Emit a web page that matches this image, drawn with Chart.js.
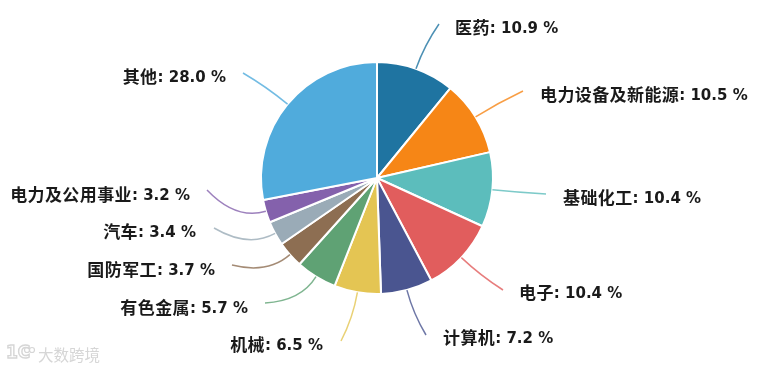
<!DOCTYPE html>
<html>
<head>
<meta charset="utf-8">
<style>
  html, body { margin: 0; padding: 0; background: #fff; }
  #wrap { width: 758px; height: 370px; }
</style>
<script src="https://cdn.jsdelivr.net/npm/chart.js@4/dist/chart.umd.min.js"></script>
</head>
<body>
<div id="wrap"><canvas id="pie" width="758" height="370"></canvas></div>
<script>
// Data
const categories = ['医药', '电力设备及新能源', '基础化工', '电子', '计算机', '机械', '有色金属', '国防军工', '汽车', '电力及公用事业', '其他'];
const weights = [10.9, 10.5, 10.4, 10.4, 7.2, 6.5, 5.7, 3.7, 3.4, 3.2, 28.0];
const sliceColors = ['#1f74a1', '#f68616', '#5cbdbc', '#e15d5d', '#4a5590', '#e4c553', '#5fa274', '#8d6e52', '#9aabb7', '#8461ac', '#50abdc'];

// Leader end point and label anchor, one per slice (canvas pixels)
const leaderEnds = [[439, 24], [523, 91], [546, 194], [503, 290], [426, 335], [341, 341], [265, 303], [232, 265], [214, 228], [207, 190], [243, 73]];
const labelAnchors = [[455, 28], [540, 95], [563, 198], [519, 293], [443, 338], [323, 345], [248, 308], [215, 270], [196, 232], [190, 195], [226, 77]];

const nameFont = 'bold 17px "Noto Sans CJK SC", sans-serif';
const valueFont = 'bold 15px "DejaVu Sans", sans-serif';

// Curved leader lines and text labels
const labelPlugin = {
  id: 'sliceLabels',
  afterDatasetsDraw(chart) {
    const ctx = chart.ctx;
    chart.getDatasetMeta(0).data.forEach((arc, i) => {
      const p = arc.getProps(['x', 'y', 'startAngle', 'endAngle', 'outerRadius'], true);
      const mid = (p.startAngle + p.endAngle) / 2;
      const sx = p.x + Math.cos(mid) * p.outerRadius;
      const sy = p.y + Math.sin(mid) * p.outerRadius;
      const [ex, ey] = leaderEnds[i];
      const reach = Math.hypot(ex - sx, ey - sy) * 0.5;

      ctx.save();
      ctx.strokeStyle = sliceColors[i];
      ctx.globalAlpha = 0.8;
      ctx.lineWidth = 1.5;
      ctx.beginPath();
      ctx.moveTo(sx, sy);
      ctx.quadraticCurveTo(sx + Math.cos(mid) * reach, sy + Math.sin(mid) * reach, ex, ey);
      ctx.stroke();
      ctx.restore();

      // Name in CJK, value in a wider latin face
      const name = categories[i];
      const value = ': ' + weights[i].toFixed(1) + ' %';
      ctx.save();
      ctx.fillStyle = '#1a1a1a';
      ctx.textBaseline = 'middle';
      ctx.textAlign = 'left';
      ctx.font = nameFont;
      ctx.letterSpacing = '0.4px';
      const nameWidth = ctx.measureText(name).width;
      ctx.font = valueFont;
      ctx.letterSpacing = '0px';
      const valueWidth = ctx.measureText(value).width;
      const x0 = i < 5 ? labelAnchors[i][0] : labelAnchors[i][0] - nameWidth - valueWidth;
      ctx.font = nameFont;
      ctx.letterSpacing = '0.4px';
      ctx.fillText(name, x0, labelAnchors[i][1]);
      ctx.font = valueFont;
      ctx.letterSpacing = '0px';
      ctx.fillText(value, x0 + nameWidth, labelAnchors[i][1] + 1);
      ctx.restore();
    });

    // Filigrane en bas à gauche
    ctx.save();
    ctx.fillStyle = '#d6d6d6';
    ctx.strokeStyle = '#d6d6d6';
    ctx.font = '15.5px "Noto Sans CJK SC", sans-serif';
    ctx.textBaseline = 'middle';
    ctx.textAlign = 'left';
    ctx.fillText('大数跨境', 38, 355);
    ctx.font = 'bold 17px "DejaVu Sans", sans-serif';
    ctx.lineWidth = 1.4;
    ctx.strokeText('1C', 6, 354);
    ctx.lineWidth = 1.2;
    ctx.beginPath();
    ctx.arc(27, 350, 2.5, 0, Math.PI * 2);
    ctx.moveTo(34.5, 350);
    ctx.arc(32, 350, 2.5, 0, Math.PI * 2);
    ctx.stroke();
    ctx.restore();
  }
};

new Chart(document.getElementById('pie').getContext('2d'), {
  type: 'pie',
  data: {
    labels: categories,
    datasets: [{
      data: weights,
      backgroundColor: sliceColors,
      borderColor: '#ffffff',
      borderWidth: 2,
      radius: 116
    }]
  },
  options: {
    responsive: false,
    animation: false,
    layout: { padding: { right: 4, bottom: 14 } },
    plugins: {
      legend: { display: false },
      tooltip: { enabled: false }
    }
  },
  plugins: [labelPlugin]
});
</script>
</body>
</html>
